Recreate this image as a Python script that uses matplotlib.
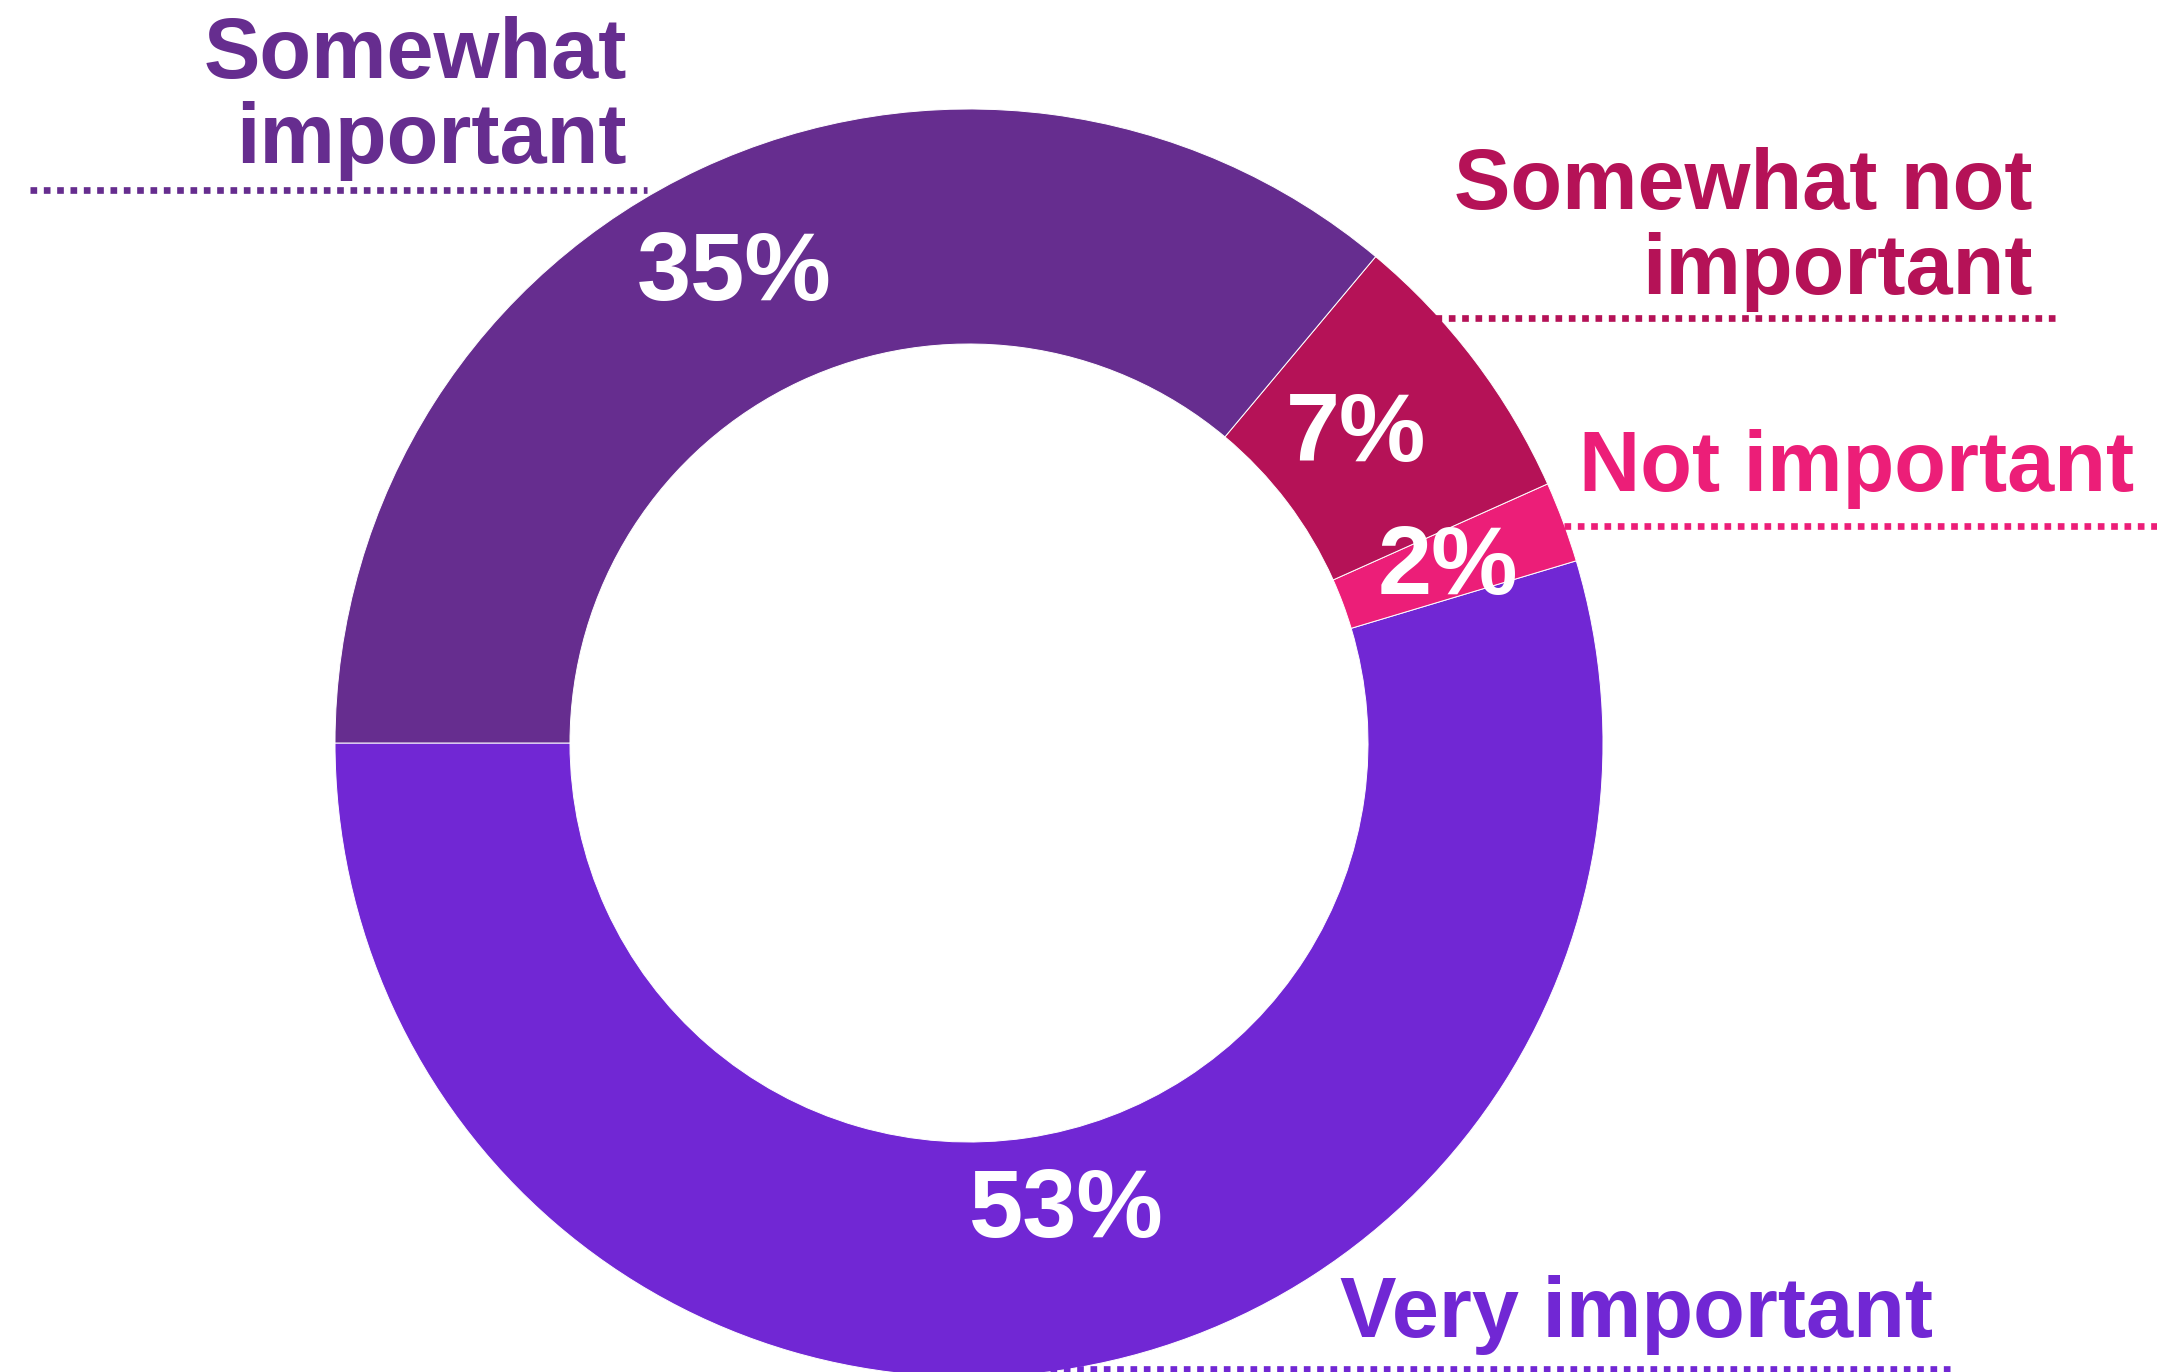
import numpy as np
import matplotlib
matplotlib.use("Agg")
import matplotlib.pyplot as plt

# ---- data ----
categories = ["Very important", "Not important", "Somewhat not important", "Somewhat important"]
values = [53, 2, 7, 35]
pct_labels = ["53%", "2%", "7%", "35%"]
label_lines = [["Very important"], ["Not important"], ["Somewhat not", "important"], ["Somewhat", "important"]]

# ---- style ----
colors = ["#7127D4", "#EC1E78", "#B51257", "#662D8F"]
W, H = 2157, 1372
CX, CY = 969, 743          # donut centre (pixels, from top)
R_OUT = 634
R_IN = 399
FONT = "Liberation Sans"

pct_rfrac = [0.74, 0.81, 0.79, 0.84]
pct_dang = [3.6, 0.6, 2.2, 1.1]

# label layout: right x, first baseline y, line gap, dotted line y, x0, x1
label_right = [1933, 2134, 2033, 627]
label_base = [1337, 491, 209, 78]
label_gap = 85
dot_y = [1369, 526, 318, 190]
dot_x0 = [1050, 1564, 1435, 30]
dot_x1 = [1951, 2157, 2055, 647]

fig = plt.figure(figsize=(W / 100, H / 100), dpi=100)
ax = fig.add_axes([0, 0, 1, 1])

def yd(ypx):
    return H - ypx

wedges, _ = ax.pie(values, colors=colors, startangle=180, counterclock=True,
                   radius=R_OUT, center=(CX, yd(CY)),
                   wedgeprops=dict(width=R_OUT - R_IN, edgecolor="white", linewidth=0.7))

for w, txt, rf, da in zip(wedges, pct_labels, pct_rfrac, pct_dang):
    ang = np.deg2rad((w.theta1 + w.theta2) / 2 + da)
    x = CX + rf * R_OUT * np.cos(ang)
    y = yd(CY) + rf * R_OUT * np.sin(ang)
    ax.text(x, y - 35, txt, ha="center", va="baseline", color="white",
            fontsize=70, fontweight="bold", family=FONT, zorder=5)

for i, lines in enumerate(label_lines):
    for j, line in enumerate(lines):
        ax.text(label_right[i], yd(label_base[i] + j * label_gap), line,
                ha="right", va="baseline", color=colors[i], fontsize=61,
                fontweight="bold", family=FONT, zorder=5)
    ax.plot([dot_x0[i], dot_x1[i]], [yd(dot_y[i])] * 2, color=colors[i],
            lw=4.8, linestyle=(0, (1, 1.0)), dash_capstyle="butt", zorder=6)

ax.set_xlim(0, W)
ax.set_ylim(0, H)
ax.set_aspect("equal")
ax.axis("off")
fig.savefig("out.png", dpi=100, facecolor="white")
